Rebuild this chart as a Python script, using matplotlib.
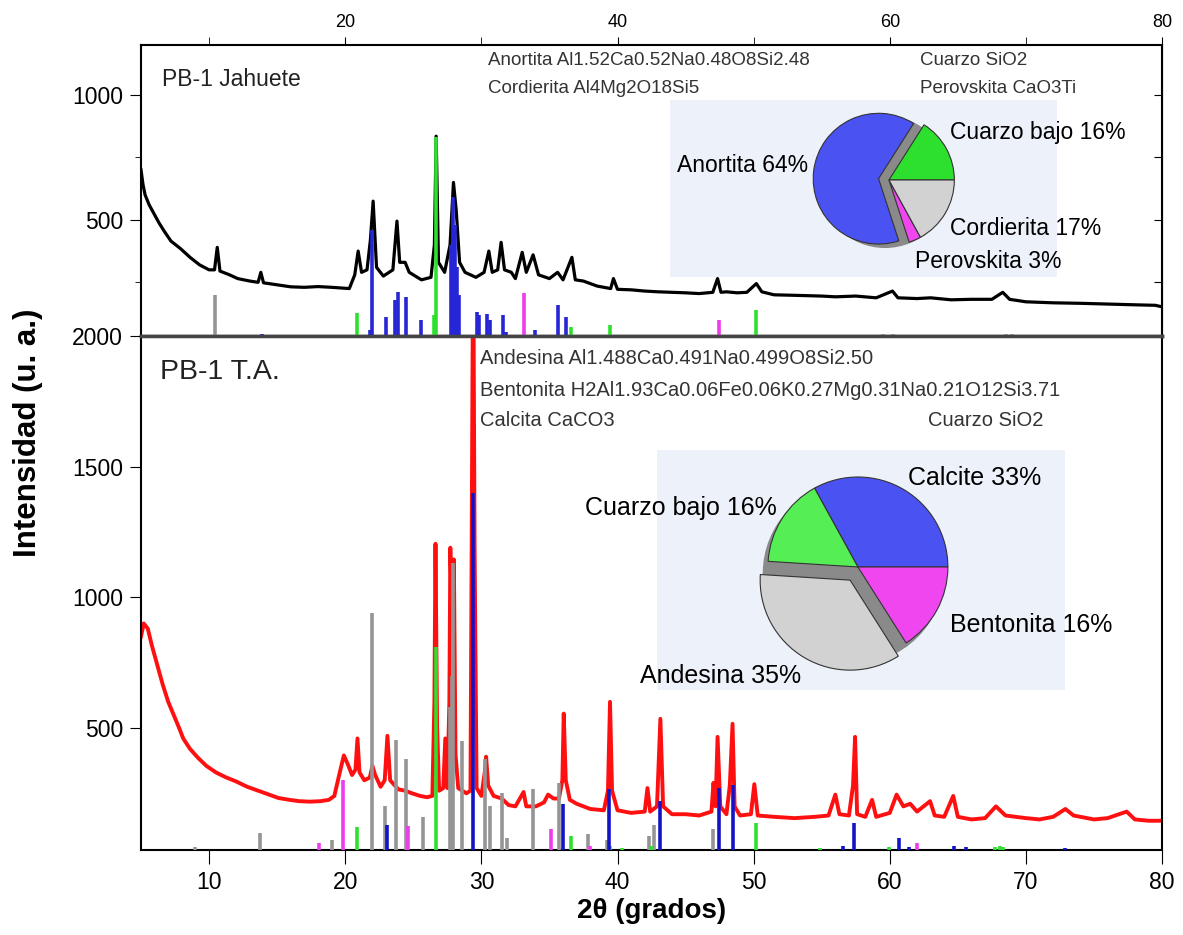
import matplotlib
matplotlib.use('Agg')
import matplotlib.pyplot as plt

plt.rcParams['font.family'] = ['Liberation Sans', 'DejaVu Sans']

top_tt = [5.0, 5.15, 5.3, 5.6, 5.9, 6.3, 6.7, 7.2, 7.9, 8.6, 9.3, 10.0, 10.4, 10.6, 10.8,
          11.5, 12.1, 13.0, 13.6, 13.8, 14.0, 15.0, 16.0, 17.0, 18.0, 19.0, 20.3, 20.7,
          20.95, 21.2, 21.6, 21.85, 22.05, 22.3, 22.8, 23.5, 23.8, 24.0, 24.4, 24.7, 25.6,
          26.3, 26.55, 26.68, 26.85, 27.3, 27.7, 27.95, 28.15, 28.4, 28.8, 29.6, 30.2,
          30.55, 30.8, 31.2, 31.45, 31.7, 32.2, 32.5, 33.0, 33.3, 33.8, 34.2, 35.0, 35.6,
          36.0, 36.65, 36.9, 37.5, 38.5, 39.5, 39.7, 40.0, 41.0, 42.0, 43.0, 44.0, 45.0,
          46.0, 47.0, 47.35, 47.6, 48.0, 48.8, 49.5, 50.2, 50.6, 51.5, 53.0, 55.0, 56.0,
          57.5, 59.0, 60.2, 60.6, 62.0, 63.0, 64.5, 66.0, 67.5, 68.3, 68.8, 70.0, 72.0,
          74.0, 76.0, 78.0, 79.5, 80.0]
top_int = [700, 640, 600, 560, 530, 490, 455, 415, 385, 350, 320, 300, 300, 390, 295,
           280, 265, 255, 250, 290, 248, 240, 232, 230, 233, 230, 225, 280,
           375, 290, 300, 420, 575, 310, 275, 300, 495, 330, 330, 290, 260,
           270, 400, 835, 330, 290, 400, 650, 540, 330, 290, 270, 290,
           375, 290, 300, 410, 300, 290, 265, 370, 290, 360, 280, 265, 290,
           260, 350, 260, 255, 235, 225, 265, 222, 220, 215, 212, 210, 208,
           205, 210, 265, 210, 212, 208, 210, 245, 212, 200, 198, 195, 192,
           195, 188, 215, 188, 185, 188, 180, 182, 182, 210, 182, 172, 168,
           166, 163, 160, 158, 152]

# reference sticks, top panel
anortita_pos = [13.9, 21.8, 22.0, 23.0, 23.65, 23.85, 24.45, 25.6, 27.75, 27.9, 28.05,
                28.2, 28.35, 29.7, 29.85, 30.45, 30.6, 31.6, 31.8, 33.95, 35.6, 36.2]
anortita_h = [45, 60, 460, 112, 180, 213, 193, 100, 400, 593, 480,
              313, 200, 133, 120, 125, 100, 120, 50, 60, 160, 110]
cuarzo1_pos = [20.85, 26.5, 26.64, 36.55, 39.47, 50.14]
cuarzo1_h = [128, 120, 833, 70, 80, 140]
cordierita_pos = [10.45, 59.5, 60.2, 68.5, 69.0]
cordierita_h = [200, 45, 45, 45, 45]
perovskita_pos = [33.1, 47.45]
perovskita_h = [208, 100]

# ---- PB-1 T.A. (bottom) ----
bot_tt = [5.0, 5.2, 5.5, 5.8, 6.2, 6.6, 7.0, 7.4, 7.8, 8.1, 8.6, 9.2, 9.8, 10.5, 11.2,
          12.0, 12.8, 13.6, 14.4, 15.1, 15.9, 16.6, 17.4, 18.2, 18.8, 19.2, 19.6, 19.9,
          20.2, 20.5, 20.75, 20.9, 21.05, 21.4, 21.8, 22.0, 22.2, 22.6, 22.9, 23.1, 23.3,
          23.9, 24.4, 24.9, 25.5, 26.0, 26.4, 26.55, 26.63, 26.75, 26.9, 27.2, 27.35, 27.5,
          27.65, 27.72, 27.85, 27.98, 28.1, 28.3, 28.9, 29.2, 29.32, 29.4, 29.5, 29.65,
          30.0, 30.25, 30.35, 30.5, 30.9, 31.5, 32.0, 32.5, 33.1, 33.3, 34.0, 34.6, 34.9,
          35.3, 35.7, 35.95, 36.05, 36.2, 36.5, 37.0, 38.0, 39.0, 39.3, 39.45, 39.6, 40.0,
          41.0, 42.0, 42.2, 42.4, 42.9, 43.15, 43.35, 44.0, 45.0, 46.0, 46.9, 47.05, 47.2,
          47.35, 47.55, 48.0, 48.25, 48.45, 48.6, 49.0, 49.8, 50.05, 50.3, 51.5, 53.0,
          54.5, 55.5, 56.0, 56.3, 57.0, 57.3, 57.45, 57.6, 58.2, 58.7, 59.0, 60.0, 60.5,
          61.0, 61.5, 62.0, 62.96, 63.3, 64.0, 64.66, 65.0, 66.0, 67.0, 67.8, 68.5, 70.0,
          71.0, 72.0, 72.9, 73.5, 75.0, 76.0, 77.4, 78.0, 79.0, 80.0]
bot_int = [850, 900, 880, 815, 740, 665, 600, 550, 500, 460, 420, 385, 355, 330, 312,
           295, 275, 260, 245, 232, 225, 220, 218, 220, 225, 240, 330, 395,
           360, 320, 340, 460, 330, 300, 310, 355, 320, 275, 300, 470, 300,
           265, 260, 250, 240, 235, 240, 600, 1205, 500, 260, 270, 460, 270,
           600, 1190, 900, 1145, 400, 270, 250, 260, 1500, 2400, 1200, 270,
           240, 330, 390, 280, 240, 230, 205, 200, 255, 200, 200, 215, 245,
           230, 230, 300, 555, 300, 225, 210, 190, 185, 260, 600, 260, 185,
           175, 180, 270, 180, 200, 535, 200, 170, 170, 165, 180, 290, 200,
           466, 200, 170, 280, 516, 200, 165, 170, 285, 165, 160, 155,
           160, 165, 245, 170, 165, 280, 466, 170, 160, 225, 160, 175, 245,
           200, 210, 180, 220, 165, 160, 240, 160, 150, 155, 200, 165, 155,
           150, 160, 190, 165, 150, 155, 180, 150, 145, 145]

andesina_pos = [9.0, 13.76, 19.0, 22.0, 22.9, 23.75, 24.5, 25.7, 27.7, 27.82, 27.95,
                28.6, 30.3, 30.6, 31.5, 31.9, 33.8, 35.7, 37.8, 39.2, 42.3, 42.7, 47.0]
andesina_h = [45, 100, 71, 940, 200, 455, 380, 160, 580, 700, 1130,
              450, 380, 200, 250, 80, 265, 290, 94, 71, 87, 130, 113]
bentonita_pos = [18.07, 19.87, 24.6, 35.15, 38.0, 62.0]
bentonita_h = [60, 300, 125, 113, 50, 60]
calcita_pos = [23.1, 29.4, 36.0, 39.4, 43.15, 47.45, 48.5, 56.6, 57.4, 60.7, 61.4, 64.7,
               65.6, 72.9]
calcita_h = [130, 1400, 210, 265, 220, 270, 283, 50, 138, 78, 45, 50, 45, 40]
cuarzo2_pos = [20.85, 26.64, 36.55, 39.45, 40.3, 42.45, 50.14, 54.9, 59.96, 67.7, 68.1, 68.3]
cuarzo2_h = [120, 810, 85, 50, 40, 50, 135, 40, 45, 45, 50, 45]

# pie data
pie1_labels = ['Cuarzo bajo 16%', 'Anortita 64%', 'Perovskita 3%', 'Cordierita 17%']
pie1_vals = [16, 64, 3, 17]
pie2_labels = ['Calcite 33%', 'Cuarzo bajo 16%', 'Andesina 35%', 'Bentonita 16%']
pie2_vals = [33, 16, 35, 16]

BLUE = '#2626d6'
GREEN = '#2ee02e'
GRAY = '#959595'
MAG = '#ee3cee'

fig = plt.figure(figsize=(11.83, 9.35), dpi=100)
ax1 = fig.add_axes([0.1192, 0.6406, 0.8631, 0.3113])
ax2 = fig.add_axes([0.1192, 0.0909, 0.8631, 0.5497])

# top panel
y1lo = 35
ax1.plot(top_tt, top_int, color='black', lw=2.3, zorder=2)
for pos, h, c in [(cordierita_pos, cordierita_h, GRAY), (anortita_pos, anortita_h, BLUE),
                  (cuarzo1_pos, cuarzo1_h, GREEN), (perovskita_pos, perovskita_h, MAG)]:
    ax1.vlines(pos, y1lo, h, colors=c, lw=2.6, zorder=3)
ax1.set_xlim(5, 80)
ax1.set_ylim(y1lo, 1200)
ax1.xaxis.set_ticks_position('top')
ax1.set_xticks([20, 40, 60, 80])
ax1.set_xticks([10, 30, 50, 70], minor=True)
ax1.tick_params(axis='x', which='both', direction='out', length=6, labelsize=13,
                top=True, bottom=False, labeltop=True, labelbottom=False, pad=4)
ax1.set_yticks([500, 1000])
ax1.set_yticks([250, 750], minor=True)
ax1.tick_params(axis='y', which='major', direction='out', length=8, labelsize=16.5, pad=5)
ax1.tick_params(axis='y', which='minor', direction='out', length=4)
sec = ax1.secondary_yaxis('right')
sec.set_yticks([250, 500, 750, 1000])
sec.set_yticklabels([])
sec.tick_params(direction='in', length=6)

ax1.text(0.021, 0.88, 'PB-1 Jahuete', transform=ax1.transAxes, fontsize=16.5,
         va='center', color='#222222')
ax1.text(0.34, 0.948, 'Anortita Al1.52Ca0.52Na0.48O8Si2.48', transform=ax1.transAxes,
         fontsize=13.5, va='center', color='#333333')
ax1.text(0.34, 0.852, 'Cordierita Al4Mg2O18Si5', transform=ax1.transAxes,
         fontsize=13.5, va='center', color='#333333')
ax1.text(0.763, 0.948, 'Cuarzo SiO2', transform=ax1.transAxes,
         fontsize=13.5, va='center', color='#333333')
ax1.text(0.763, 0.852, 'Perovskita CaO3Ti', transform=ax1.transAxes,
         fontsize=13.5, va='center', color='#333333')

# bottom panel
y2lo = 33
ax2.plot(bot_tt, bot_int, color='#ff1010', lw=2.8, zorder=2)
for pos, h, c in [(andesina_pos, andesina_h, GRAY), (bentonita_pos, bentonita_h, MAG),
                  (cuarzo2_pos, cuarzo2_h, GREEN), (calcita_pos, calcita_h, '#1212c8')]:
    ax2.vlines(pos, y2lo, h, colors=c, lw=2.6, zorder=3)
ax2.set_xlim(5, 80)
ax2.set_ylim(y2lo, 2000)
ax2.set_xticks(range(10, 81, 10))
ax2.set_yticks([500, 1000, 1500, 2000])
ax2.tick_params(axis='x', direction='out', length=10, labelsize=16.5, pad=5)
ax2.tick_params(axis='y', direction='out', length=8, labelsize=16.5, pad=5)
ax2.set_xlabel('2θ (grados)', fontsize=20, fontweight='bold', labelpad=3)

ax2.text(0.019, 0.93, 'PB-1 T.A.', transform=ax2.transAxes, fontsize=20.5,
         va='center', color='#222222')
ax2.text(0.332, 0.957, 'Andesina Al1.488Ca0.491Na0.499O8Si2.50', transform=ax2.transAxes,
         fontsize=14.5, va='center', color='#333333')
ax2.text(0.332, 0.895, 'Bentonita H2Al1.93Ca0.06Fe0.06K0.27Mg0.31Na0.21O12Si3.71',
         transform=ax2.transAxes, fontsize=14.5, va='center', color='#333333')
ax2.text(0.332, 0.835, 'Calcita CaCO3', transform=ax2.transAxes,
         fontsize=14.5, va='center', color='#333333')
ax2.text(0.771, 0.835, 'Cuarzo SiO2', transform=ax2.transAxes,
         fontsize=14.5, va='center', color='#333333')

for ax in (ax1, ax2):
    for s in ax.spines.values():
        s.set_linewidth(1.5)
ax1.spines['bottom'].set_linewidth(2.5)
ax1.spines['bottom'].set_color('#444444')
ax2.spines['top'].set_linewidth(2.5)
ax2.spines['top'].set_color('#444444')

fig.text(0.024, 0.537, 'Intensidad (u. a.)', rotation=90, fontsize=22.5,
         fontweight='bold', ha='center', va='center')

# pie insets with pale background boxes
box1 = fig.add_axes([0.566, 0.7037, 0.3272, 0.1893], facecolor='#edf1fa')
box2 = fig.add_axes([0.5554, 0.262, 0.345, 0.2567], facecolor='#edf1fa')
for b in (box1, box2):
    b.set_xticks([])
    b.set_yticks([])
    for s in b.spines.values():
        s.set_visible(False)

pa1 = fig.add_axes([0.6796, 0.7166, 0.1437, 0.1818])
pa1.add_patch(plt.Circle((-0.06, -0.03), 1.0, color='#8a8a8a', zorder=0))
pa1.pie(pie1_vals, colors=[GREEN, '#4a52f2', '#f046f0', '#d2d2d2'],
        explode=[0, 0.16, 0, 0], startangle=0, counterclock=True,
        wedgeprops=dict(edgecolor='#333333', linewidth=0.8))
pa1.set_xlim(-1.3, 1.3)
pa1.set_ylim(-1.3, 1.3)
pa1.set_aspect('equal')
pa1.axis('off')

pa2 = fig.add_axes([0.628, 0.2706, 0.1944, 0.246])
pa2.add_patch(plt.Circle((-0.05, -0.07), 1.0, color='#8a8a8a', zorder=0))
pa2.pie(pie2_vals, colors=['#4a52f2', '#55ee55', '#d2d2d2', '#f046f0'],
        explode=[0, 0, 0.17, 0], startangle=0, counterclock=True,
        wedgeprops=dict(edgecolor='#333333', linewidth=0.8))
pa2.set_xlim(-1.278, 1.278)
pa2.set_ylim(-1.278, 1.278)
pa2.set_aspect('equal')
pa2.axis('off')

# pie labels
fig.text(0.803, 0.8578, pie1_labels[0], fontsize=16.5, va='center')
fig.text(0.683, 0.8235, pie1_labels[1], fontsize=16.5, va='center', ha='right')
fig.text(0.7735, 0.7198, pie1_labels[2], fontsize=16.5, va='center')
fig.text(0.803, 0.756, pie1_labels[3], fontsize=16.5, va='center')

fig.text(0.7675, 0.4888, pie2_labels[0], fontsize=18, va='center')
fig.text(0.4945, 0.4567, pie2_labels[1], fontsize=18, va='center')
fig.text(0.541, 0.277, pie2_labels[2], fontsize=18, va='center')
fig.text(0.803, 0.3316, pie2_labels[3], fontsize=18, va='center')

fig.savefig('out.png', dpi=100)
